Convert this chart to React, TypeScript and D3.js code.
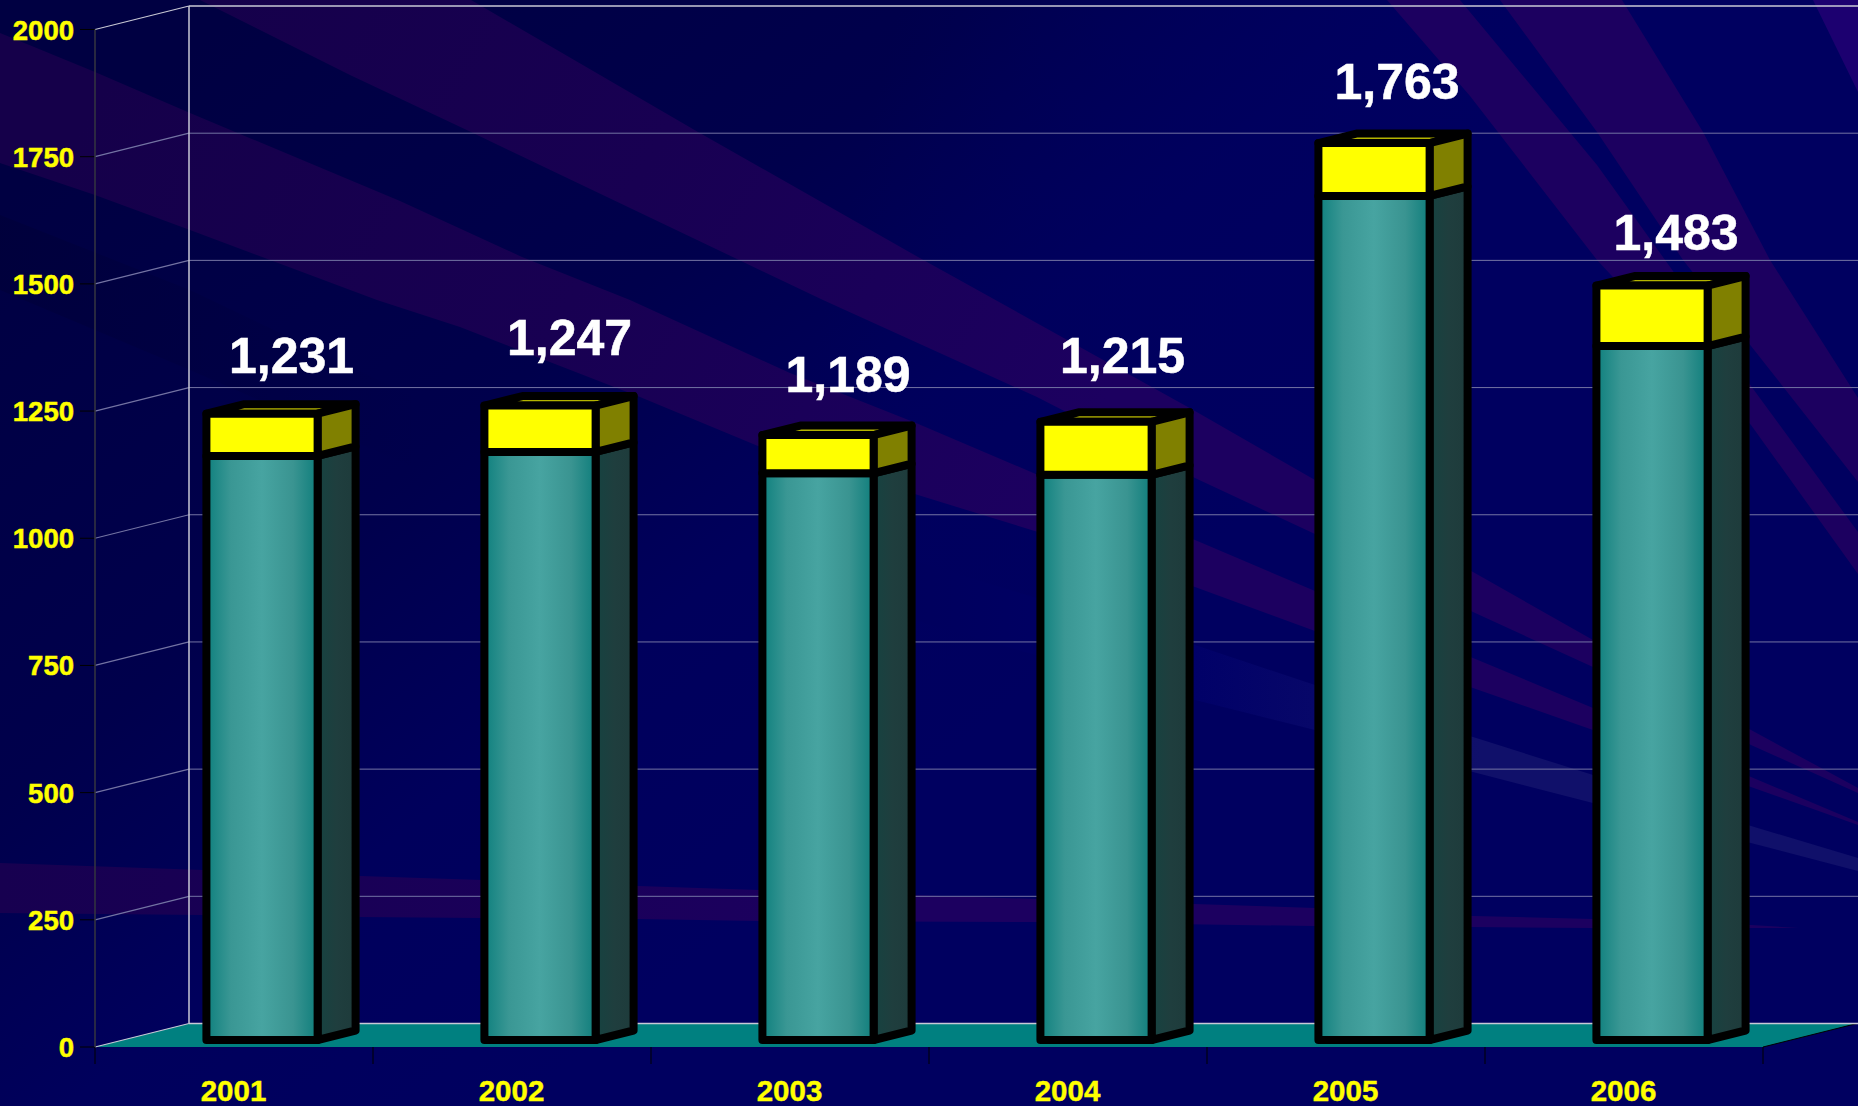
import React from "react";
import * as d3 from "d3";

// ---------- data ----------
const categories = ["2001", "2002", "2003", "2004", "2005", "2006"];
const totals = [1231, 1247, 1189, 1215, 1763, 1483];
const lowerSeries = [1148, 1156, 1114, 1111, 1659, 1364];
const upperSeries = [83, 91, 75, 104, 104, 119];
const yTicks = [0, 250, 500, 750, 1000, 1250, 1500, 1750, 2000];

// hand-placed value labels of the original: shift from bar's front centre and top
const labelDx = [29.5, 29.5, 30, 26.5, 23, 24];
const labelDy = [40.5, 51, 43.5, 49, 44.5, 35.5];

// ---------- backdrop artwork (decorative swooshes, page coordinates) ----------
type P = [number, number];
const bandOne: P[] = [[200,0],[471,0],[698,132],[918,257],[1195,411],[1315,480],[1473,572],[1593,640],[1751,730],[1858,788],[1858,793],[1751,745],[1593,667],[1473,612],[1315,534],[1195,478],[1037,397],[823,300],[739,260],[471,132],[350,75]];
const bandTwo: P[] = [[0,33],[95,72],[190,113],[400,201],[522,257],[630,300],[790,373],[916,423],[1038,475],[1195,540],[1315,591],[1473,658],[1593,708],[1751,777],[1858,822],[1858,825],[1751,787],[1593,730],[1473,688],[1315,631],[1195,587],[1038,532],[918,495],[758,446],[640,397],[460,327],[377,300],[190,230],[95,195],[0,163]];
const bandA: P[] = [[1387,0],[1460,0],[1597,165],[1683,285],[1751,386],[1858,532],[1858,574],[1751,425],[1597,260],[1470,96]];
const bandB: P[] = [[1500,0],[1622,0],[1703,132],[1770,260],[1858,398],[1858,482],[1751,346],[1683,260],[1597,132]];
const bandCorner: P[] = [[1813,0],[1858,0],[1858,92]];
const bandFlat: P[] = [[0,863],[203,870],[360,876],[482,880],[638,886],[759,890],[1037,899],[1315,908],[1473,916],[1593,919],[1751,925],[1798,928],[1751,928],[1593,928],[1473,927],[1315,926],[1037,922],[759,921],[638,919],[482,918],[360,917],[203,915],[0,913]];
const bandPale: P[] = [[880,550],[1000,587],[1195,645],[1315,685],[1473,737],[1593,775],[1751,826],[1858,858],[1858,871],[1751,843],[1593,803],[1473,772],[1315,730],[1195,700],[1000,645],[880,610]];
const darkStreakLeft: P[] = [[0,215],[190,290],[420,400],[420,470],[190,370],[0,290]];

// ---------- layout ----------
const W = 1858, H = 1106;
const wallDx = 94, wallDy = 23.5;
const barDepthStart = 0.298, barDepth = 0.404;
const barInset = 0.3, barWidthShare = 0.4;
const teal = "#008080", lineLight = "#c9c9d6", gridLine = "#7373a3";
const font = "'Liberation Sans', Arial, sans-serif";

const x = d3.scaleBand<string>().domain(categories).range([95, 1763]).padding(0);
const y = d3.scaleLinear().domain([0, 2000]).range([1047, 29.5]);
const polyPath = d3.line<P>().x(p => p[0]).y(p => p[1]);
const closed = (pts: P[]) => (polyPath(pts) || "") + "Z";
const at = (px: number, v: number, d: number): P => [px + d * wallDx, y(v) - d * wallDy];

function Bar({ i }: { i: number }) {
  const slot = x(categories[i]) as number;
  const l = slot + barInset * x.bandwidth();
  const r = l + barWidthShare * x.bandwidth();
  const d0 = barDepthStart, d1 = barDepthStart + barDepth;
  const lo = lowerSeries[i];
  const top = lo + upperSeries[i];
  const stroke = { stroke: "#000", strokeWidth: 8, strokeLinejoin: "round" as const };
  const front = (a: number, b: number): P[] => [at(l, b, d0), at(r, b, d0), at(r, a, d0), at(l, a, d0)];
  const side = (a: number, b: number): P[] => [at(r, b, d0), at(r, b, d1), at(r, a, d1), at(r, a, d0)];
  const cap: P[] = [at(l, top, d0), at(l, top, d1), at(r, top, d1), at(r, top, d0)];
  return (
    <g>
      <path d={closed(cap)} fill="#b4b400" {...stroke} />
      <path d={closed(side(0, lo))} fill="url(#tealSide)" {...stroke} />
      <path d={closed(side(lo, top))} fill="#808000" {...stroke} />
      <path d={closed(front(0, lo))} fill="url(#tealFront)" {...stroke} />
      <path d={closed(front(lo, top))} fill="#ffff00" {...stroke} />
    </g>
  );
}

export default function App() {
  const floor: P[] = [at(95, 0, 0), at(1763, 0, 0), at(1763, 0, 1), at(95, 0, 1)];
  const xTickPos = [...categories.map(c => x(c) as number), 1763];
  return (
    <svg width={W} height={H} viewBox={`0 0 ${W} ${H}`}
      style={{ position: "absolute", left: 0, top: 0, display: "block" }}
      fontFamily={font} fontWeight="bold">
      <defs>
        <linearGradient id="navy" gradientUnits="userSpaceOnUse" x1="250" y1="0" x2="900" y2="800">
          <stop offset="0" stopColor="#000042" />
          <stop offset="0.45" stopColor="#00004c" />
          <stop offset="0.72" stopColor="#00005c" />
          <stop offset="1" stopColor="#000060" />
        </linearGradient>
        <linearGradient id="navyRight" gradientUnits="userSpaceOnUse" x1="900" y1="0" x2="1500" y2="150">
          <stop offset="0" stopColor="#000060" stopOpacity="0" />
          <stop offset="1" stopColor="#000060" stopOpacity="1" />
        </linearGradient>
        <linearGradient id="purple" gradientUnits="userSpaceOnUse" x1="150" y1="0" x2="1050" y2="500">
          <stop offset="0" stopColor="#15004a" />
          <stop offset="0.5" stopColor="#180052" />
          <stop offset="1" stopColor="#1c0060" />
        </linearGradient>
        <linearGradient id="flatPurple" gradientUnits="userSpaceOnUse" x1="0" y1="0" x2="900" y2="0">
          <stop offset="0" stopColor="#170050" />
          <stop offset="1" stopColor="#1c0060" />
        </linearGradient>
        <linearGradient id="pale" gradientUnits="userSpaceOnUse" x1="880" y1="0" x2="1480" y2="0">
          <stop offset="0" stopColor="#00005c" />
          <stop offset="0.5" stopColor="#000068" />
          <stop offset="1" stopColor="#10106a" />
        </linearGradient>
        <linearGradient id="streakFade" gradientUnits="userSpaceOnUse" x1="0" y1="0" x2="420" y2="0">
          <stop offset="0" stopColor="#000030" stopOpacity="0.35" />
          <stop offset="1" stopColor="#000030" stopOpacity="0" />
        </linearGradient>
        <linearGradient id="tealFront" x1="0" x2="1" y1="0" y2="0">
          <stop offset="0" stopColor="#0f807e" />
          <stop offset="0.22" stopColor="#3a9794" />
          <stop offset="0.5" stopColor="#47a4a1" />
          <stop offset="0.78" stopColor="#3a9491" />
          <stop offset="1" stopColor="#0f7e7c" />
        </linearGradient>
        <linearGradient id="tealSide" x1="0" x2="1" y1="0" y2="0">
          <stop offset="0" stopColor="#164341" />
          <stop offset="0.5" stopColor="#1f3e3e" />
          <stop offset="1" stopColor="#1e3b3b" />
        </linearGradient>
      </defs>

      {/* backdrop */}
      <rect width={W} height={H} fill="url(#navy)" />
      <rect width={W} height={700} fill="url(#navyRight)" />
      <path d={closed(darkStreakLeft)} fill="url(#streakFade)" />
      <path d={closed(bandPale)} fill="url(#pale)" />
      <path d={closed(bandTwo)} fill="url(#purple)" />
      <path d={closed(bandOne)} fill="url(#purple)" />
      <path d={closed(bandA)} fill="#1c0060" />
      <path d={closed(bandB)} fill="#1c0060" />
      <path d={closed(bandCorner)} fill="#1c0070" />
      <path d={closed(bandFlat)} fill="url(#flatPurple)" />

      {/* floor */}
      <path d={closed(floor)} fill={teal} />
      <line x1={at(1763,0,0)[0]} y1={at(1763,0,0)[1]} x2={at(1763,0,1)[0]} y2={at(1763,0,1)[1]} stroke="#000" strokeWidth={1} />

      {/* grid lines on side and back walls */}
      {yTicks.map(t => {
        const top = t === 2000, zero = t === 0;
        const c = top || zero ? lineLight : gridLine;
        const [bx, by] = at(95, t, 1);
        return (
          <g key={t}>
            <line x1={95} y1={y(t)} x2={bx} y2={by} stroke={c} strokeWidth={1.2} />
            <line x1={bx} y1={by} x2={W} y2={by} stroke={c} strokeWidth={top || zero ? 1.5 : 1} />
            <line x1={80} y1={y(t)} x2={95} y2={y(t)} stroke="#000" strokeWidth={1} />
            <text x={74} y={y(t) + 10} textAnchor="end" fontSize={27.5} fill="#ffff00" stroke="#ffff00" strokeWidth={0.5}>{t}</text>
          </g>
        );
      })}
      <line x1={95} y1={y(2000)} x2={95} y2={y(0)} stroke="#333340" strokeWidth={1.6} />
      <line x1={95 + wallDx} y1={y(2000) - wallDy} x2={95 + wallDx} y2={y(0) - wallDy} stroke={lineLight} strokeWidth={1.5} />

      {/* category axis */}
      {xTickPos.map((px, i) => (
        <line key={i} x1={px} y1={y(0)} x2={px} y2={y(0) + 17} stroke="#000" strokeWidth={1} />
      ))}
      {categories.map(c => (
        <text key={c} x={(x(c) as number) + x.bandwidth() / 2 - 0.5} y={1100.5} textAnchor="middle" fontSize={29.5} fill="#ffff00" stroke="#ffff00" strokeWidth={0.4}>{c}</text>
      ))}

      {/* bars */}
      {categories.map((_, i) => <Bar key={i} i={i} />)}

      {/* value labels */}
      {categories.map((c, i) => {
        const slot = x(c) as number;
        const cx = slot + (barInset + barWidthShare / 2) * x.bandwidth() + barDepthStart * wallDx;
        const [, ty] = at(0, lowerSeries[i] + upperSeries[i], barDepthStart);
        return (
          <text key={c} x={cx + labelDx[i]} y={ty - labelDy[i]} textAnchor="middle" fontSize={50} fill="#fff" stroke="#fff" strokeWidth={0.5}>
            {d3.format(",")(totals[i])}
          </text>
        );
      })}
    </svg>
  );
}
